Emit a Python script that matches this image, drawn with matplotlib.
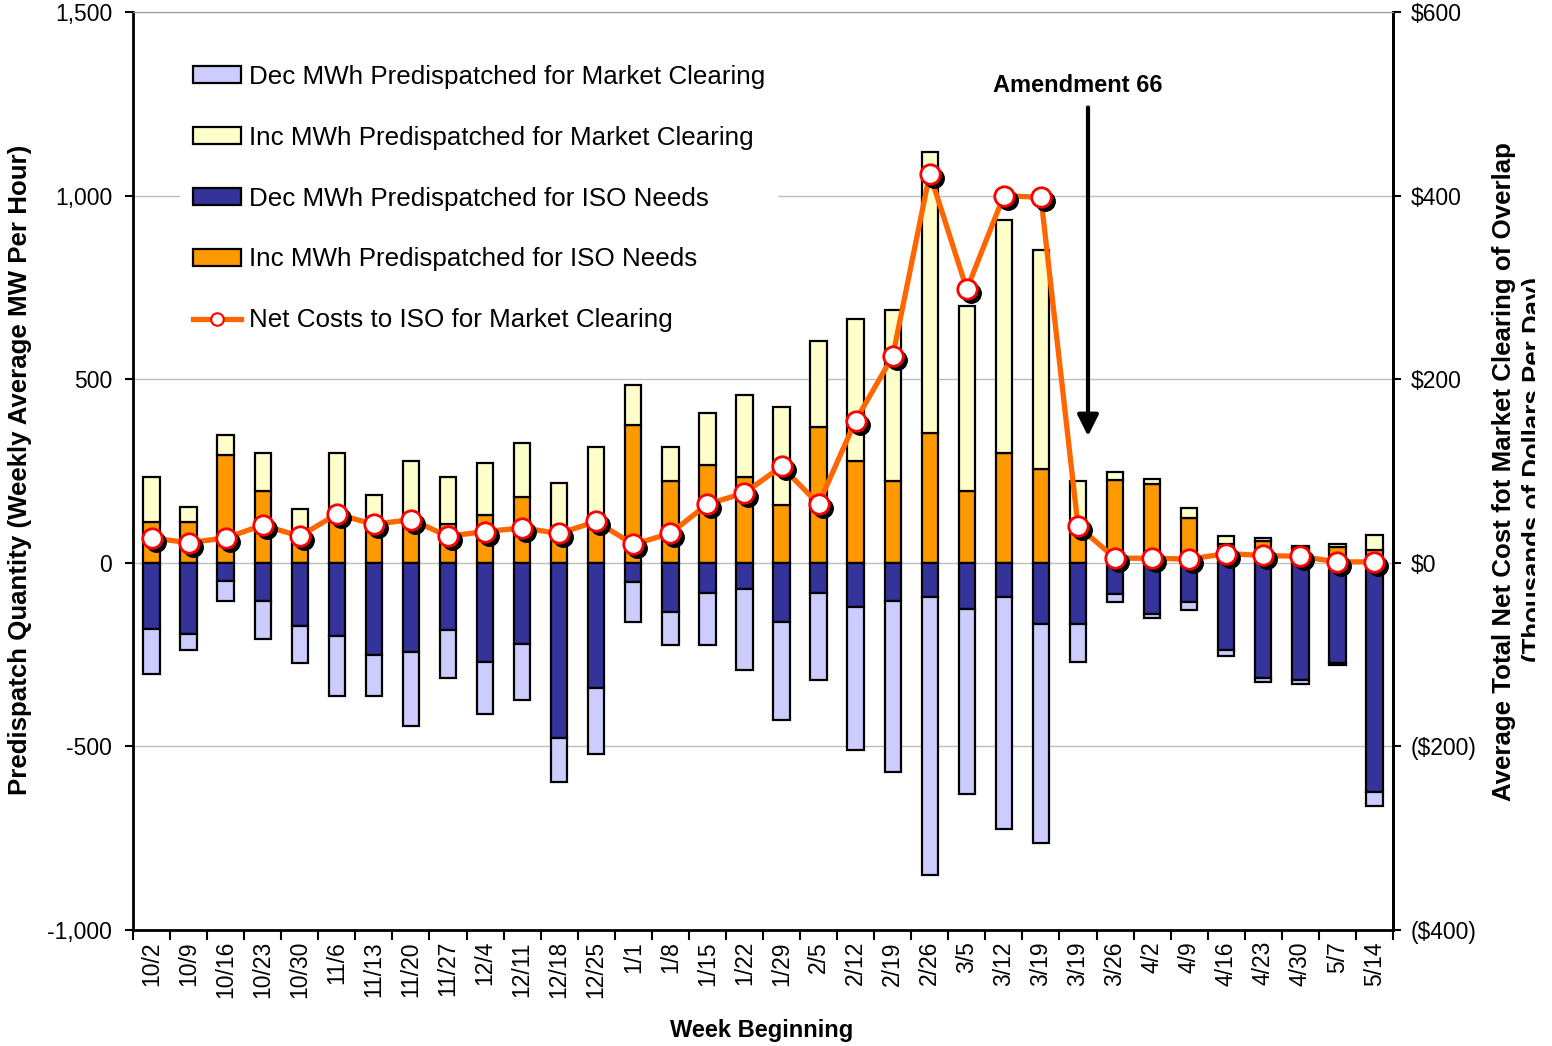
import matplotlib.pyplot as plt
import numpy as np
from matplotlib import transforms
from matplotlib.lines import Line2D
from matplotlib.patches import Patch
from matplotlib.ticker import FuncFormatter, MultipleLocator

plt.rcParams['font.family'] = ['Liberation Sans', 'DejaVu Sans']

weeks = ['10/2', '10/9', '10/16', '10/23', '10/30', '11/6', '11/13', '11/20',
         '11/27', '12/4', '12/11', '12/18', '12/25', '1/1', '1/8', '1/15',
         '1/22', '1/29', '2/5', '2/12', '2/19', '2/26', '3/5', '3/12', '3/19',
         '3/19', '3/26', '4/2', '4/9', '4/16', '4/23', '4/30', '5/7', '5/14']

# MW, weekly average per hour
inc_iso = [110, 110, 294, 196, 90, 130, 117, 100, 105, 130, 180, 80, 126, 375,
           222, 267, 234, 158, 369, 276, 223, 353, 195, 300, 255, 100, 226, 214,
           121, 50, 59, 40, 43, 35]
inc_mkt = [123, 43, 55, 104, 57, 170, 68, 178, 128, 143, 147, 137, 189, 110,
           93, 142, 223, 266, 234, 387, 466, 765, 505, 633, 598, 124, 21, 15,
           28, 22, 9, 5, 7, 42]
dec_iso = [-179, -194, -49, -103, -173, -200, -250, -244, -184, -271, -221,
           -478, -342, -53, -135, -82, -71, -162, -81, -120, -103, -92, -125,
           -92, -168, -168, -86, -140, -107, -237, -313, -320, -274, -625]
dec_mkt = [-125, -44, -54, -104, -99, -163, -113, -201, -129, -141, -153,
           -119, -180, -109, -88, -141, -222, -266, -239, -390, -467, -759,
           -504, -634, -596, -103, -21, -11, -22, -17, -12, -11, -3, -36]

# thousands of dollars per day
net_cost = [27, 22, 27, 41, 29, 53, 42, 47, 29, 34, 38, 32, 45, 20, 32, 64,
            76, 105, 64, 155, 225, 424, 298, 400, 398, 40, 5, 5, 4, 10, 8, 7,
            1, 1]

c_dec_mkt = '#CCCCFF'
c_inc_mkt = '#FFFFCC'
c_dec_iso = '#333399'
c_inc_iso = '#FF9900'
c_line = '#FF6600'

x = np.arange(len(weeks))

fig = plt.figure(figsize=(15.52, 10.46), dpi=100)
ax = fig.add_axes([133 / 1552, 116 / 1046, 1260 / 1552, 918 / 1046])

w = 0.44
edge = dict(edgecolor='black', linewidth=1.6, zorder=3)
ax.bar(x, inc_iso, w, color=c_inc_iso, **edge)
ax.bar(x, inc_mkt, w, bottom=inc_iso, color=c_inc_mkt, **edge)
ax.bar(x, dec_iso, w, color=c_dec_iso, **edge)
ax.bar(x, dec_mkt, w, bottom=dec_iso, color=c_dec_mkt, **edge)

ax.set_xlim(-0.5, len(weeks) - 0.5)
ax.set_ylim(-1000, 1500)
ax.yaxis.set_major_locator(MultipleLocator(500))
ax.yaxis.set_major_formatter(FuncFormatter(lambda v, p: f'{v:,.0f}'))
ax.grid(axis='y', color='#BFBFBF', lw=1)
ax.set_axisbelow(True)

ax.set_xticks(x)
ax.set_xticklabels(weeks, rotation=90, fontsize=16.5)
ax.set_xticks(np.arange(len(weeks) + 1) - 0.5, minor=True)
ax.tick_params(axis='x', which='major', length=0, pad=8)
ax.tick_params(axis='x', which='minor', length=7, width=1.5, direction='out')
ax.tick_params(axis='y', length=6, width=1.5, labelsize=16.5, pad=9)

for s in ['left', 'bottom']:
    ax.spines[s].set_linewidth(2)
ax.spines['top'].set_color('#999999')
ax.spines['right'].set_linewidth(2)

ax2 = ax.twinx()
ax2.set_ylim(-400, 600)
ax2.yaxis.set_major_locator(MultipleLocator(200))
ax2.yaxis.set_major_formatter(
    FuncFormatter(lambda v, p: f'${v:,.0f}' if v >= 0 else f'(${-v:,.0f})'))
ax2.tick_params(axis='y', length=6, width=1.5, labelsize=16.5, pad=7)
ax2.spines['right'].set_linewidth(2)
ax2.spines['top'].set_color('#999999')

shadow = transforms.offset_copy(ax2.transData, fig=fig, x=4, y=-4, units='dots')
ax2.plot(x, net_cost, color=c_line, lw=3.8, zorder=2)
ax2.plot(x, net_cost, 'o', ms=14, color='black', transform=shadow, zorder=3)
ax2.plot(x, net_cost, 'o', ms=14, mfc='white', mec='red', mew=2, zorder=4)

ax.annotate('', xy=(25.27, 345), xytext=(25.27, 1240),
            arrowprops=dict(arrowstyle='-|>', lw=3, color='black',
                            mutation_scale=32, shrinkA=0, shrinkB=0))
ax.text(25.0, 1300, 'Amendment 66', ha='center', va='center',
        fontsize=17, fontweight='bold')

handles = [
    Patch(facecolor=c_dec_mkt, edgecolor='black', lw=1.6,
          label='Dec MWh Predispatched for Market Clearing'),
    Patch(facecolor=c_inc_mkt, edgecolor='black', lw=1.6,
          label='Inc MWh Predispatched for Market Clearing'),
    Patch(facecolor=c_dec_iso, edgecolor='black', lw=1.6,
          label='Dec MWh Predispatched for ISO Needs'),
    Patch(facecolor=c_inc_iso, edgecolor='black', lw=1.6,
          label='Inc MWh Predispatched for ISO Needs'),
    Line2D([], [], color=c_line, lw=3.8, marker='o', ms=9, mfc='white',
           mec='red', mew=1.5, label='Net Costs to ISO for Market Clearing'),
]
leg = ax2.legend(handles=handles, loc='upper left',
                 bbox_to_anchor=(0.0373, 0.9566), borderaxespad=0,
                 fontsize=18.7, frameon=True, fancybox=False,
                 edgecolor='none', facecolor='white', framealpha=1,
                 labelspacing=1.42, handlelength=1.85, handleheight=0.6,
                 handletextpad=0.3, borderpad=0.5)

fig.text(20 / 1552, 1 - 470 / 1046,
         'Predispatch Quantity (Weekly Average MW Per Hour)',
         rotation=90, ha='center', va='center', fontsize=18.6,
         fontweight='bold')
fig.text(1504 / 1552, 1 - 472 / 1046,
         'Average Total Net Cost fot Market Clearing of Overlap',
         rotation=90, ha='center', va='center', fontsize=18.6,
         fontweight='bold')
# second line of the right label is cut off by the chart border in the source
sub = fig.text(1522 / 1552, 1 - 470 / 1046, '(Thousands of Dollars Per Day)',
               rotation=90, ha='left', va='center', fontsize=18.6,
               fontweight='bold')
sub.set_clip_box(transforms.Bbox([[0, 0], [1535, 1046]]))
sub.set_clip_on(True)
fig.text(762 / 1552, 1 - 1030 / 1046, 'Week Beginning', ha='center',
         va='center', fontsize=17, fontweight='bold')

fig.savefig('out.png', dpi=100)
